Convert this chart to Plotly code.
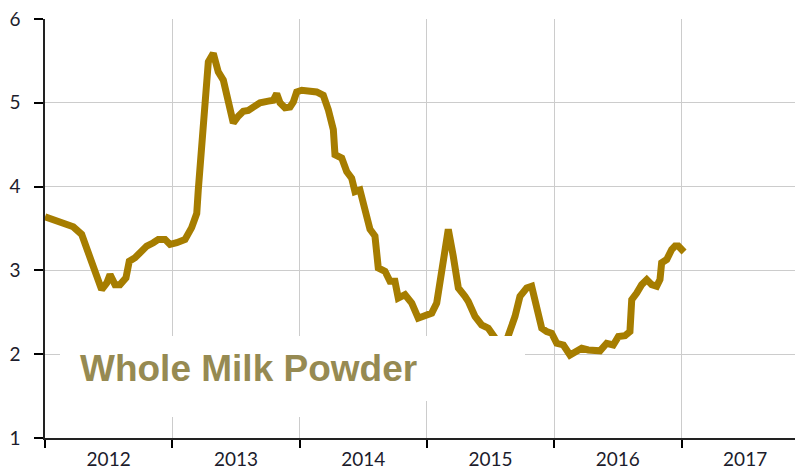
import plotly.graph_objects as go

# ---- data (decimal year, price) ----
years = [
    2012.000, 2012.053, 2012.118, 2012.170, 2012.222, 2012.288, 2012.328, 2012.353,
    2012.393, 2012.445, 2012.485, 2012.511, 2012.550, 2012.589, 2012.636, 2012.662,
    2012.707, 2012.746, 2012.799, 2012.851, 2012.890, 2012.943, 2012.982,
    2013.035, 2013.100, 2013.152, 2013.192, 2013.204, 2013.231, 2013.257, 2013.283,
    2013.322, 2013.361, 2013.401, 2013.440, 2013.479, 2013.518, 2013.558, 2013.597,
    2013.650, 2013.689, 2013.754, 2013.793, 2013.820, 2013.846, 2013.885, 2013.925,
    2013.951, 2013.977,
    2014.017, 2014.082, 2014.134, 2014.186, 2014.225, 2014.265, 2014.278, 2014.331,
    2014.370, 2014.409, 2014.435, 2014.474, 2014.514, 2014.553, 2014.592, 2014.618,
    2014.671, 2014.710, 2014.749, 2014.775, 2014.828, 2014.881, 2014.932, 2014.985,
    2015.038, 2015.077, 2015.116, 2015.168, 2015.207, 2015.247, 2015.299, 2015.325,
    2015.378, 2015.430, 2015.482, 2015.522, 2015.559, 2015.598, 2015.639, 2015.692,
    2015.731, 2015.784, 2015.823, 2015.862, 2015.902, 2015.941, 2015.980,
    2016.020, 2016.072, 2016.124, 2016.163, 2016.216, 2016.268, 2016.307, 2016.360,
    2016.412, 2016.464, 2016.504, 2016.556, 2016.595, 2016.609, 2016.648, 2016.687,
    2016.727, 2016.766, 2016.805, 2016.831, 2016.844, 2016.884, 2016.923, 2016.949,
    2016.975,
    2017.020,
]
prices = [
    3.64, 3.61, 3.58, 3.54, 3.52, 3.43, 3.27, 3.13,
    2.99, 2.77, 2.85, 2.95, 2.83, 2.83, 2.91, 3.11,
    3.15, 3.21, 3.29, 3.33, 3.37, 3.37, 3.31,
    3.33, 3.37, 3.51, 3.68, 3.96, 4.56, 5.15, 5.49,
    5.59, 5.37, 5.27, 5.00, 4.76, 4.84, 4.90, 4.91,
    4.95, 5.00, 5.02, 5.03, 5.11, 5.00, 4.94, 4.95,
    5.01, 5.13,
    5.15, 5.15, 5.13, 5.09, 4.92, 4.68, 4.38, 4.34,
    4.18, 4.10, 3.94, 3.96, 3.68, 3.49, 3.41, 3.03,
    2.99, 2.87, 2.87, 2.67, 2.71, 2.61, 2.43, 2.45,
    2.49, 2.61, 3.05, 3.49, 3.17, 2.79, 2.69, 2.63,
    2.45, 2.35, 2.31, 2.22, 2.12, 2.06, 2.22, 2.45,
    2.69, 2.79, 2.81, 2.57, 2.31, 2.27, 2.25,
    2.13, 2.11, 1.99, 2.02, 2.07, 2.05, 2.04, 2.04,
    2.13, 2.11, 2.21, 2.22, 2.27, 2.65, 2.73, 2.83,
    2.89, 2.83, 2.81, 2.89, 3.09, 3.13, 3.25, 3.29,
    3.29,
    3.22,
]
year_ticks = [2012, 2013, 2014, 2015, 2016, 2017]
year_labels = ["2012", "2013", "2014", "2015", "2016", "2017"]
y_ticks = [1, 2, 3, 4, 5, 6]
title_text = "Whole Milk Powder"

# the page body adds an 8px offset; size the figure so the plot lands
# where it sits in the 803x472 reference window
OFF = 8
W, H = 803 - OFF, 472 - OFF
ML, MT = 45 - OFF, 19 - OFF
MR = 0
MB = H - (438 - OFF)
px_per_year = 127.3
x_range = [2012, 2012 + (W - ML - MR) / px_per_year]

tick_font = dict(family="Lato, 'Open Sans', sans-serif", size=19, color="#1c1c2c")
grid_col = "#cccccc"

fig = go.Figure()
fig.add_trace(go.Scatter(
    x=years, y=prices, mode="lines",
    line=dict(color="#A67D00", width=7),
    hoverinfo="skip", showlegend=False,
))

fig.update_layout(
    width=W, height=H,
    margin=dict(l=ML, r=MR, t=MT, b=MB, autoexpand=False),
    paper_bgcolor="white", plot_bgcolor="white",
    showlegend=False,
    xaxis=dict(
        range=x_range, automargin=False,
        tickmode="array", tickvals=[v + 0.5 for v in year_ticks],
        ticktext=year_labels, tickfont=tick_font,
        ticks="", showgrid=False,
        minor=dict(
            tickmode="array", tickvals=year_ticks,
            ticks="outside", ticklen=8, tickwidth=1.5, tickcolor="black",
            showgrid=True, gridcolor=grid_col, gridwidth=1,
        ),
        showline=True, linecolor="#222222", linewidth=1.5,
        zeroline=False, ticklabelstandoff=3, ticklabeloverflow="allow",
    ),
    yaxis=dict(
        range=[1, 6], automargin=False,
        tickmode="array", tickvals=y_ticks,
        tickfont=tick_font,
        showgrid=True, gridcolor=grid_col, gridwidth=1,
        ticks="outside", ticklen=9, tickwidth=1.5, tickcolor="black",
        showline=True, linecolor="#222222", linewidth=1.5,
        zeroline=False, ticklabelstandoff=10, ticklabeloverflow="allow",
    ),
)

def px_to_paper_x(px):
    return (px - OFF - ML) / (W - ML - MR)

def px_to_paper_y(py):
    return (H - MB - (py - OFF)) / (H - MT - MB)

# white label boxes covering the chart (as in the reference)
fig.add_shape(type="rect", xref="paper", yref="paper", layer="above",
              x0=px_to_paper_x(60), x1=px_to_paper_x(425),
              y0=px_to_paper_y(417), y1=px_to_paper_y(336),
              fillcolor="white", line=dict(width=0))
fig.add_shape(type="rect", xref="paper", yref="paper", layer="above",
              x0=px_to_paper_x(424), x1=px_to_paper_x(525),
              y0=px_to_paper_y(401), y1=px_to_paper_y(336),
              fillcolor="white", line=dict(width=0))

fig.add_annotation(
    text=title_text, xref="paper", yref="paper",
    x=px_to_paper_x(248), y=px_to_paper_y(368),
    xanchor="center", yanchor="middle", showarrow=False,
    font=dict(family="Liberation Sans, Arial, sans-serif", size=37,
              color="#968A52", weight="bold"),
)

fig.write_html("out.html")
